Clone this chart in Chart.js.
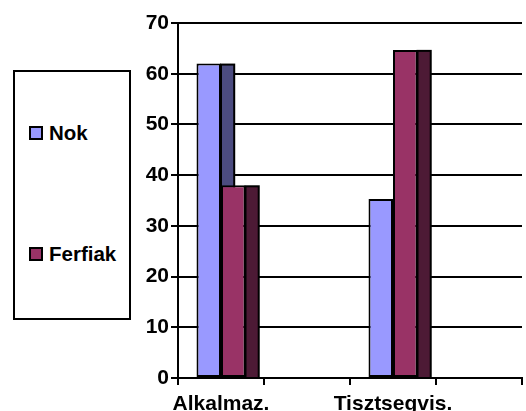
<!DOCTYPE html>
<html>
<head>
<meta charset="utf-8">
<script src="https://cdn.jsdelivr.net/npm/chart.js@4.4.1/dist/chart.umd.min.js"></script>
<style>
    body { margin: 0; background: #fff; }
    #wrap { position: relative; width: 526px; height: 411px; }
    #legend {
        position: absolute; left: 13px; top: 70px; width: 118px; height: 250px;
        box-sizing: border-box; border: 2px solid #000; background: #fff;
        font: bold 20.5px "Liberation Sans", Arial, sans-serif; color: #000;
    }
    .item { position: absolute; left: 14px; display: flex; align-items: center; height: 20px; }
    .swatch { width: 14px; height: 14px; box-sizing: border-box; border: 2px solid #000; margin-right: 6px; }
</style>
</head>
<body>
<div id="wrap">
    <canvas id="chart"></canvas>
    <div id="legend"></div>
</div>
<script>
// Data (percent)
const categories = ['Alkalmaz.', '', 'Tisztsegvis.', ''];
const seriesNames = ['Nok', 'Ferfiak'];
const nokValues = [62, null, 35.3, null];
const ferfiakValues = [38, null, 64.7, null];

const frontColors = ['#9999ff', '#993366'];
const sideColors = ['#4c4c80', '#4d1a35'];

// Draw bars in dataset order, each followed by its darker side face
const sideFaces = {
    id: 'sideFaces',
    beforeDatasetsDraw(chart) {
        const ctx = chart.ctx;
        chart.data.datasets.forEach((ds, i) => {
            const meta = chart.getDatasetMeta(i);
            meta.data.forEach((bar, j) => {
                if (ds.data[j] == null) return;
                bar.draw(ctx);
                const x = bar.x + bar.width / 2;
                const w = bar.width * 0.58;
                const h = bar.base - bar.y;
                ctx.save();
                ctx.fillStyle = '#000';
                ctx.fillRect(x - 1, bar.y, w + 1, h);
                ctx.fillStyle = ds.sideColor;
                ctx.fillRect(x + 1, bar.y + 2, w - 3, h - 2);
                ctx.restore();
            });
        });
        return false;
    }
};

Chart.defaults.font.family = '"Liberation Sans", Arial, sans-serif';
Chart.defaults.font.weight = 'bold';
Chart.defaults.font.size = 21;
Chart.defaults.color = '#000';

const chart = new Chart(document.getElementById('chart'), {
    type: 'bar',
    data: {
        labels: categories,
        datasets: [
            { label: seriesNames[0], data: nokValues, backgroundColor: frontColors[0], sideColor: sideColors[0] },
            { label: seriesNames[1], data: ferfiakValues, backgroundColor: frontColors[1], sideColor: sideColors[1] }
        ]
    },
    options: {
        responsive: true,
        maintainAspectRatio: false,
        animation: false,
        layout: { padding: { top: 23, right: 4, left: 0, bottom: 0 } },
        datasets: {
            bar: {
                categoryPercentage: 0.57,
                barPercentage: 1,
                borderColor: '#000',
                borderWidth: 2,
                borderSkipped: false
            }
        },
        plugins: {
            legend: { display: false },
            tooltip: { enabled: false }
        },
        scales: {
            x: {
                grid: { drawOnChartArea: false, offset: true, color: '#000', lineWidth: 2, tickLength: 7 },
                border: { color: '#000', width: 2 },
                ticks: { padding: 7, maxRotation: 0, autoSkip: false },
                afterFit(scale) { scale.height = 33; }
            },
            y: {
                min: 0,
                max: 70,
                ticks: { stepSize: 10, padding: 2 },
                grid: { color: '#000', lineWidth: 2, tickLength: 7 },
                border: { color: '#000', width: 2 },
                afterFit(scale) { scale.width = 178; }
            }
        }
    },
    plugins: [sideFaces]
});

// Legend box
const legend = document.getElementById('legend');
const itemTops = [51, 172];
chart.data.datasets.forEach((ds, i) => {
    const item = document.createElement('div');
    item.className = 'item';
    item.style.top = itemTops[i] + 'px';
    item.innerHTML = '<span class="swatch" style="background:' + ds.backgroundColor + '"></span>' + ds.label;
    legend.appendChild(item);
});
</script>
</body>
</html>
